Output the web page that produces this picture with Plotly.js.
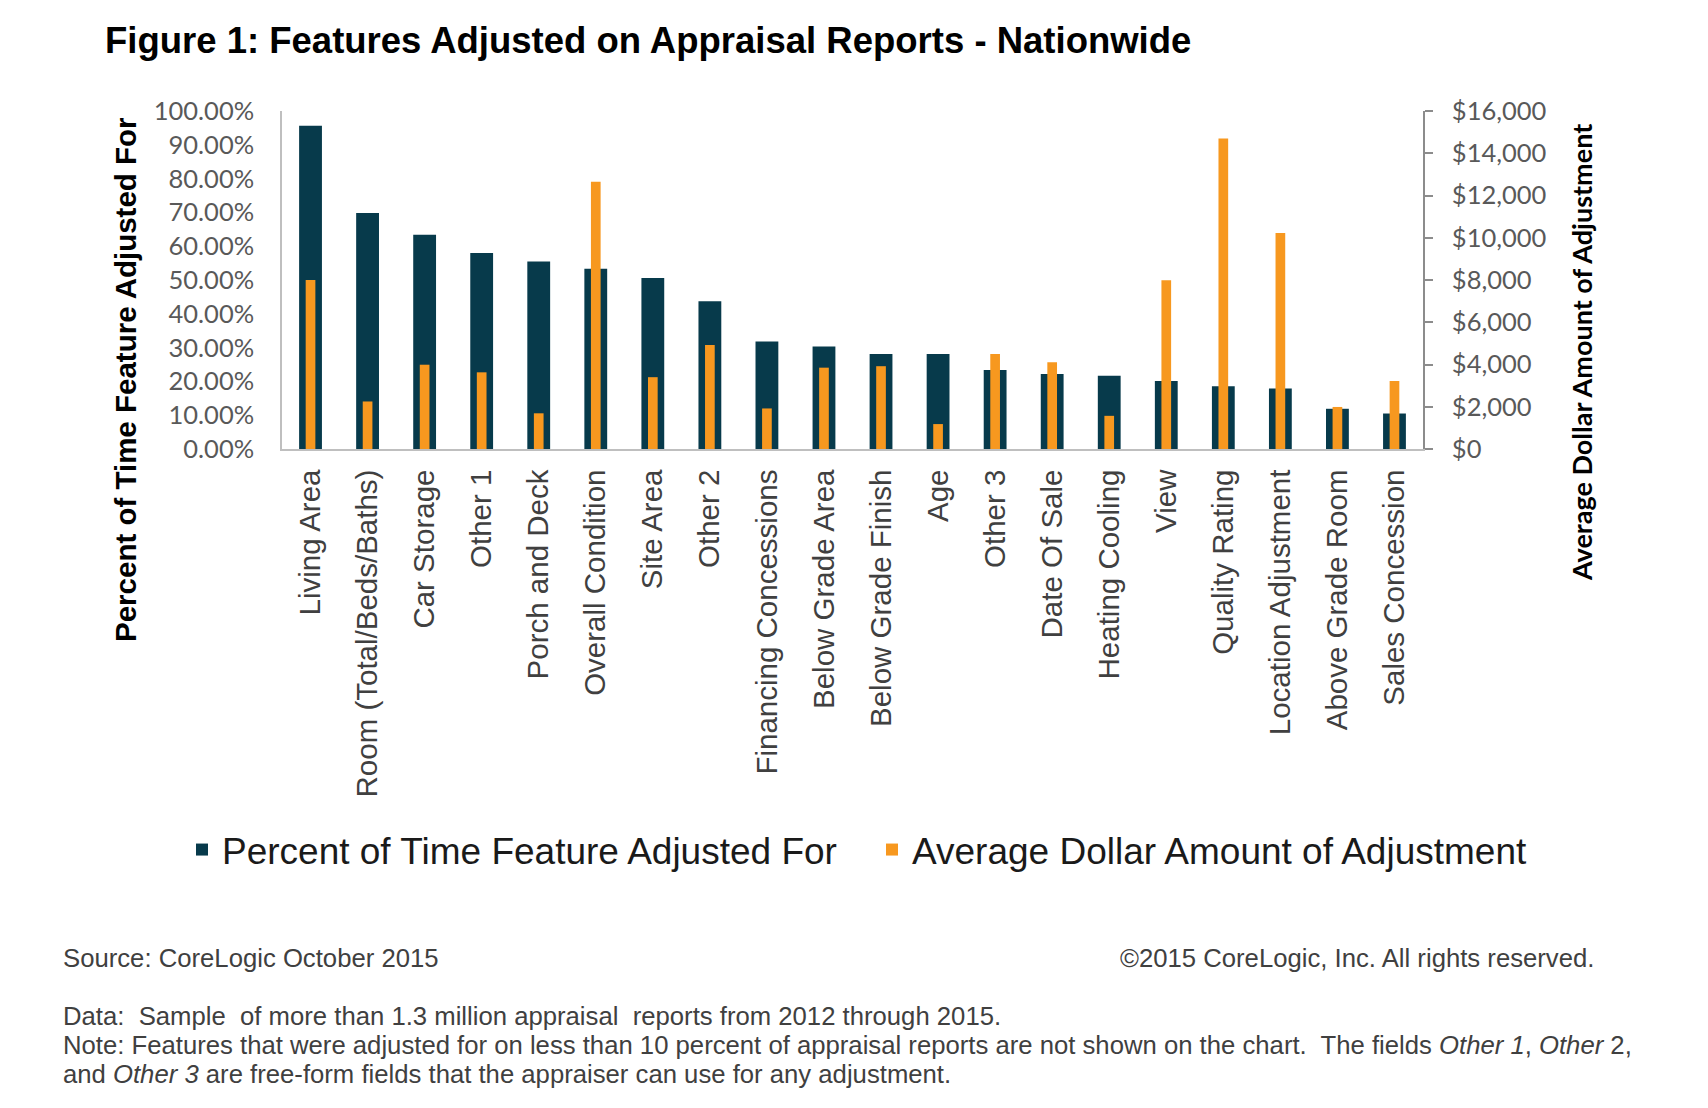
<!DOCTYPE html>
<html>
<head>
<meta charset="utf-8">
<script src="https://cdn.plot.ly/plotly-3.0.1.min.js"></script>
<style>
html,body{margin:0;padding:0;background:#fff;}
#chart{width:1708px;height:1108px;}
</style>
</head>
<body>
<div id="chart"></div>
<script>
// ---- data ----
var categories = ["Living Area","Room (Total/Beds/Baths)","Car Storage","Other 1","Porch and Deck",
  "Overall Condition","Site Area","Other 2","Financing Concessions","Below Grade Area",
  "Below Grade Finish","Age","Other 3","Date Of Sale","Heating Cooling","View",
  "Quality Rating","Location Adjustment","Above Grade Room","Sales Concession"];
var percentAdjusted = [95.6, 69.8, 63.4, 58.0, 55.5, 53.3, 50.6, 43.7, 31.8, 30.3,
  28.1, 28.1, 23.4, 22.2, 21.7, 20.1, 18.6, 17.9, 11.9, 10.5];
var avgDollar = [8000, 2250, 3990, 3630, 1690, 12650, 3400, 4920, 1920, 3850,
  3920, 1180, 4500, 4110, 1570, 7990, 14700, 10230, 1990, 3220];
var seriesNames = ["Percent of Time Feature Adjusted For", "Average Dollar Amount of Adjustment"];
var leftAxisTitle = "Percent of Time Feature Adjusted For";
var rightAxisTitle = "Average Dollar Amount of Adjustment";

var SANS = "Liberation Sans, Arial, sans-serif";
var TICKF = "Lato, Liberation Sans, sans-serif";

var traces = [
  {type:'bar', name:seriesNames[0], x:categories, y:percentAdjusted, yaxis:'y', legend:'legend',
   width:0.4, marker:{color:'#073a4b', line:{width:0}}, hoverinfo:'x+y'},
  {type:'bar', name:seriesNames[1], x:categories, y:avgDollar, yaxis:'y2', legend:'legend2',
   width:0.17, marker:{color:'#f7981f', line:{width:0}}, hoverinfo:'x+y'}
];

var L = 282, R = 285, T = 111, B = 659;
var PW = 1708 - L - R, PH = 1108 - T - B;
function px(x){ return (x - L) / PW; }
function py(y){ return (1108 - B - y) / PH; }

var foot = {family:SANS, size:25.7, color:'#404040'};
var legFont = {family:SANS, size:37, color:'#1a1a1a'};
var layout = {
  width:1708, height:1108,
  margin:{l:L, r:R, t:T, b:B, pad:0},
  paper_bgcolor:'#ffffff', plot_bgcolor:'#ffffff',
  font:{family:SANS, color:'#404040'},
  barmode:'overlay',
  showlegend:true,
  title:{text:'Figure 1: Features Adjusted on Appraisal Reports - Nationwide',
    font:{family:SANS, size:36.5, color:'#000000', weight:'bold'},
    x:105/1708, xanchor:'left', xref:'container',
    y:1-40/1108, yanchor:'middle', yref:'container'},
  xaxis:{type:'category', range:[-0.5, categories.length-0.5],
    showline:true, linecolor:'#bfbfbf', linewidth:1.5, ticks:'', showgrid:false,
    tickangle:-90, ticklabelstandoff:7,
    tickfont:{family:SANS, size:29.5, color:'#404040'}, fixedrange:true},
  yaxis:{range:[0,100], dtick:10, tick0:0, tickformat:'.2f', ticksuffix:'%',
    showgrid:false, zeroline:false, showline:true, linecolor:'#bfbfbf', linewidth:1.5,
    ticks:'', ticklabelstandoff:21,
    tickfont:{family:TICKF, size:25.5, color:'#595959'}},
  yaxis2:{overlaying:'y', side:'right', range:[0,16000], dtick:2000, tick0:0,
    tickprefix:'$', tickformat:',d', showgrid:false, zeroline:false,
    showline:true, linecolor:'#8c8c8c', linewidth:1.5,
    ticks:'outside', ticklen:8, tickcolor:'#8c8c8c', tickwidth:1.5, ticklabelstandoff:14,
    tickfont:{family:TICKF, size:25.5, color:'#595959'}},
  legend:{orientation:'h', xref:'container', yref:'container',
    x:182/1708, xanchor:'left', y:1-850/1108, yanchor:'middle',
    bgcolor:'rgba(0,0,0,0)', borderwidth:0, font:legFont},
  legend2:{orientation:'h', xref:'container', yref:'container',
    x:872/1708, xanchor:'left', y:1-850/1108, yanchor:'middle',
    bgcolor:'rgba(0,0,0,0)', borderwidth:0, font:legFont},
  annotations:[
    {text:leftAxisTitle, textangle:-90, xref:'paper', yref:'paper',
     x:px(125), y:py(380), xanchor:'center', yanchor:'middle', showarrow:false,
     font:{family:SANS, size:29.5, color:'#000000', weight:'bold'}},
    {text:rightAxisTitle, textangle:-90, xref:'paper', yref:'paper',
     x:px(1581), y:py(353), xanchor:'center', yanchor:'middle', showarrow:false,
     font:{family:TICKF, size:27, color:'#000000', weight:'bold'}},
    {text:'Source: CoreLogic October 2015', xref:'paper', yref:'paper',
     x:px(61), y:py(958), xanchor:'left', yanchor:'middle', showarrow:false, font:foot},
    {text:'©2015 CoreLogic, Inc. All rights reserved.', xref:'paper', yref:'paper',
     x:px(1596), y:py(958), xanchor:'right', yanchor:'middle', showarrow:false, font:foot},
    {text:'Data:  Sample  of more than 1.3 million appraisal  reports from 2012 through 2015.', xref:'paper', yref:'paper',
     x:px(61), y:py(1016), xanchor:'left', yanchor:'middle', showarrow:false, font:foot},
    {text:'Note: Features that were adjusted for on less than 10 percent of appraisal reports are not shown on the chart.  The fields <i>Other 1</i>, <i>Other</i> 2,', xref:'paper', yref:'paper',
     x:px(61), y:py(1045), xanchor:'left', yanchor:'middle', showarrow:false, font:foot},
    {text:'and <i>Other 3</i> are free-form fields that the appraiser can use for any adjustment.', xref:'paper', yref:'paper',
     x:px(61), y:py(1074), xanchor:'left', yanchor:'middle', showarrow:false, font:foot}
  ]
};

Plotly.newPlot('chart', traces, layout, {displayModeBar:false});
</script>
</body>
</html>
